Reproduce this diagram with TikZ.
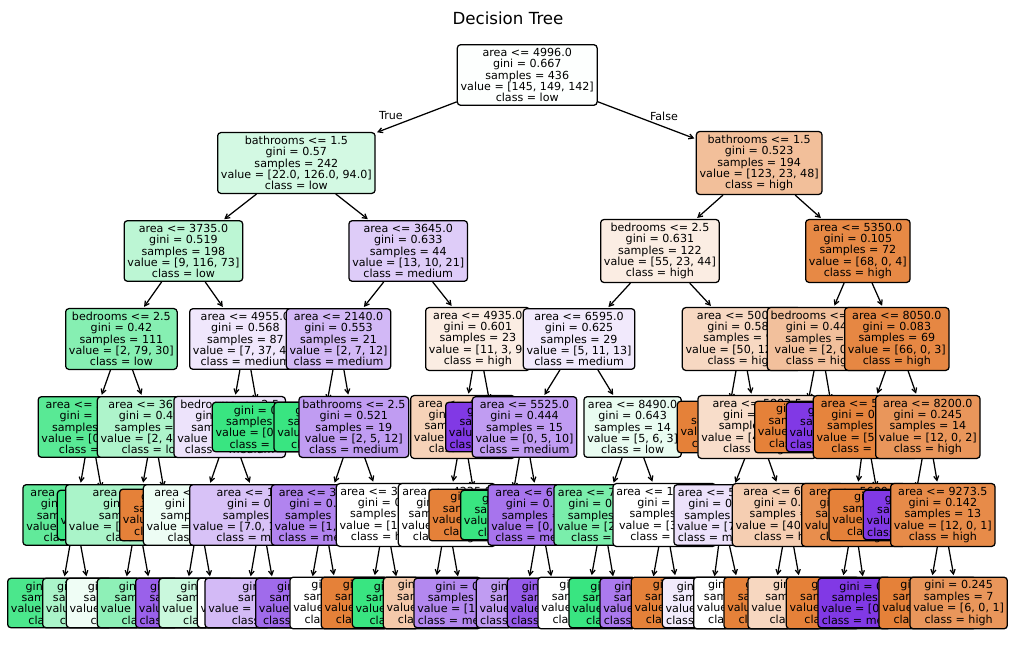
\documentclass[tikz,border=0pt]{standalone}
\usepackage{fontspec}
\setmainfont{DejaVu Sans}
\usetikzlibrary{arrows.meta}

\definecolor{high}{RGB}{229,129,57}
\definecolor{low}{RGB}{57,229,129}
\definecolor{medium}{RGB}{129,57,229}

% deeper levels lie below, their arrows just under them
\pgfdeclarelayer{bg}
\pgfdeclarelayer{e6}\pgfdeclarelayer{n6}
\pgfdeclarelayer{e5}\pgfdeclarelayer{n5}
\pgfdeclarelayer{e4}\pgfdeclarelayer{n4}
\pgfdeclarelayer{e3}\pgfdeclarelayer{n3}
\pgfdeclarelayer{e2}\pgfdeclarelayer{n2}
\pgfdeclarelayer{e1}\pgfdeclarelayer{n1}
\pgfsetlayers{bg,e6,n6,e5,n5,e4,n4,e3,n3,e2,n2,e1,n1,main}

\tikzset{
  box/.style={draw, line width=0.9pt, rounded corners=2.4pt, align=center,
    inner sep=2.4pt, anchor=west, font=\fontsize{8}{8.2}\selectfont},
  edge/.style={-{Straight Barb[length=3.2pt,width=3.6pt]}, line width=0.9pt, shorten >=1pt},
  lbl/.style={font=\fontsize{8}{9.6}\selectfont},
}
\newcommand{\nsplit}[5]{#1\\gini = #2\\samples = #3\\value = [#4]\\class = #5}
\newcommand{\nleaf}[4]{gini = #1\\samples = #2\\value = [#3]\\class = #4}

\begin{document}
\begin{tikzpicture}[x=0.72pt, y=-0.72pt]
\useasboundingbox (0,0) rectangle (1013,658);
\begin{pgfonlayer}{bg}
\fill[white] (0,0) rectangle (1013,658);
\end{pgfonlayer}

\node[font=\fontsize{12}{14.4}\selectfont] (title) at (508,18) {Decision Tree};

% depth 0
\node[box, fill=low!1] (root) at (456.7,75) {\nsplit{area <= 4996.0}{0.667}{436}{145, 149, 142}{low}};
\node[lbl] (ltrue) at (391,116) {True};
\node[lbl] (lfalse) at (664,116) {False};

% depth 1
\begin{pgfonlayer}{n1}
\node[box, fill=low!22] (l) at (217,163) {\nsplit{bathrooms <= 1.5}{0.57}{242}{22.0, 126.0, 94.0}{low}};
\node[box, fill=high!51] (r) at (695.7,163) {\nsplit{bathrooms <= 1.5}{0.523}{194}{123, 23, 48}{high}};
\end{pgfonlayer}
\begin{pgfonlayer}{e1}
\foreach \pn/\cn in {root/l, root/r}
  \draw[edge] (\pn) -- (\cn);
\end{pgfonlayer}

% depth 2
\begin{pgfonlayer}{n2}
\node[box, fill=low!34] (ll) at (123.5,251) {\nsplit{area <= 3735.0}{0.519}{198}{9, 116, 73}{low}};
\node[box, fill=medium!26] (lr) at (348.3,251) {\nsplit{area <= 3645.0}{0.633}{44}{13, 10, 21}{medium}};
\node[box, fill=high!14] (rl) at (600,251) {\nsplit{bedrooms <= 2.5}{0.631}{122}{55, 23, 44}{high}};
\node[box, fill=high!94] (rr) at (805,251) {\nsplit{area <= 5350.0}{0.105}{72}{68, 0, 4}{high}};
\end{pgfonlayer}
\begin{pgfonlayer}{e2}
\foreach \pn/\cn in {l/ll, l/lr, r/rl, r/rr}
  \draw[edge] (\pn) -- (\cn);
\end{pgfonlayer}

% depth 3
\begin{pgfonlayer}{n3}
\node[box, fill=low!61] (lll) at (65,339) {\nsplit{bedrooms <= 2.5}{0.42}{111}{2, 79, 30}{low}};
\node[box, fill=medium!12] (llr) at (189,339) {\nsplit{area <= 4955.0}{0.568}{87}{7, 37, 43}{medium}};
\node[box, fill=medium!36] (lrl) at (285.7,339) {\nsplit{area <= 2140.0}{0.553}{21}{2, 7, 12}{medium}};
\node[box, fill=high!14] (lrr) at (425,339) {\nsplit{area <= 4935.0}{0.601}{23}{11, 3, 9}{high}};
\node[box, fill=medium!11] (rll) at (522.7,339) {\nsplit{area <= 6595.0}{0.625}{29}{5, 11, 13}{medium}};
\node[box, fill=high!31] (rlr) at (681.7,339) {\nsplit{area <= 5005.0}{0.583}{93}{50, 12, 31}{high}};
\node[box, fill=high!50] (rrl) at (766.7,339) {\nsplit{bedrooms <= 3.5}{0.444}{3}{2, 0, 1}{high}};
\node[box, fill=high!95] (rrr) at (844,339) {\nsplit{area <= 8050.0}{0.083}{69}{66, 0, 3}{high}};
\end{pgfonlayer}
\begin{pgfonlayer}{e3}
\foreach \pn/\cn in {ll/lll, ll/llr, lr/lrl, lr/lrr, rl/rll, rl/rlr, rr/rrl, rr/rrr}
  \draw[edge] (\pn) -- (\cn);
\end{pgfonlayer}

% depth 4
\begin{pgfonlayer}{n4}
\node[box, fill=low!84] (llll) at (37.5,427) {\nsplit{area <= 3315.0}{0.24}{43}{0, 37, 6}{low}};
\node[box, fill=low!41] (lllr) at (96.7,427) {\nsplit{area <= 3650.0}{0.493}{68}{2, 42, 24}{low}};
\node[box, fill=medium!14] (llrl) at (173.3,427) {\nsplit{bedrooms <= 2.5}{0.568}{86}{7, 36, 43}{medium}};
\node[box, fill=low] (llrr) at (211.7,427) {\nleaf{0.0}{1}{0, 1, 0}{low}};
\node[box, fill=low] (lrll) at (273.3,427) {\nleaf{0.0}{2}{0, 2, 0}{low}};
\node[box, fill=medium!50] (lrlr) at (298.3,427) {\nsplit{bathrooms <= 2.5}{0.521}{19}{2, 5, 12}{medium}};
\node[box, fill=high!36] (lrrl) at (410,427) {\nsplit{area <= 4370.0}{0.585}{20}{11, 3, 6}{high}};
\node[box, fill=medium] (lrrr) at (445,427) {\nleaf{0.0}{3}{0, 0, 3}{medium}};
\node[box, fill=medium!50] (rlll) at (471.7,427) {\nsplit{area <= 5525.0}{0.444}{15}{0, 5, 10}{medium}};
\node[box, fill=low!11] (rllr) at (583.3,427) {\nsplit{area <= 8490.0}{0.643}{14}{5, 6, 3}{low}};
\node[box, fill=high] (rlrl) at (676.7,427) {\nleaf{0.0}{3}{3, 0, 0}{high}};
\node[box, fill=high!27] (rlrr) at (697.3,427) {\nsplit{area <= 5883.5}{0.591}{90}{47, 12, 31}{high}};
\node[box, fill=high] (rrll) at (754,427) {\nleaf{0.0}{2}{2, 0, 0}{high}};
\node[box, fill=medium] (rrlr) at (785.7,427) {\nleaf{0.0}{1}{0, 0, 1}{medium}};
\node[box, fill=high!98] (rrrl) at (812.7,427) {\nsplit{area <= 5550.0}{0.036}{55}{54, 0, 1}{high}};
\node[box, fill=high!83] (rrrr) at (875,427) {\nsplit{area <= 8200.0}{0.245}{14}{12, 0, 2}{high}};
\end{pgfonlayer}
\begin{pgfonlayer}{e4}
\foreach \pn/\cn in {lll/llll, lll/lllr, llr/llrl, llr/llrr, lrl/lrll, lrl/lrlr, lrr/lrrl, lrr/lrrr,
    rll/rlll, rll/rllr, rlr/rlrl, rlr/rlrr, rrl/rrll, rrl/rrlr, rrr/rrrl, rrr/rrrr}
  \draw[edge] (\pn) -- (\cn);
\end{pgfonlayer}

% depth 5
\begin{pgfonlayer}{n5}
\node[box, fill=low!80] (lllll) at (22.3,515) {\nsplit{area <= 3150.0}{0.278}{36}{0, 30, 6}{low}};
\node[box, fill=low] (llllr) at (56.7,515) {\nleaf{0.0}{7}{0, 7, 0}{low}};
\node[box, fill=low!43] (lllrl) at (65,515) {\nsplit{area <= 3510.0}{0.463}{66}{0.0, 42.0, 24.0}{low}};
\node[box, fill=high] (lllrr) at (119,515) {\nleaf{0.0}{2}{2, 0, 0}{high}};
\node[box, fill=low!9] (llrll) at (142.7,515) {\nsplit{area <= 4410.0}{0.499}{44}{0, 23, 21}{low}};
\node[box, fill=medium!31] (llrlr) at (189,515) {\nsplit{area <= 1920.0}{0.602}{42}{7.0, 13.0, 22.0}{medium}};
\node[box, fill=medium!62] (lrlrl) at (270.7,515) {\nsplit{area <= 3050.0}{0.443}{17}{1, 4, 12}{medium}};
\node[box, fill=white] (lrlrr) at (335.7,515) {\nsplit{area <= 3300.0}{0.5}{2}{1, 1, 0}{high}};
\node[box, fill=white] (lrrll) at (397.7,515) {\nsplit{area <= 4235.0}{0.64}{15}{6, 3, 6}{high}};
\node[box, fill=high] (lrrlr) at (428.3,515) {\nleaf{0.0}{5}{5, 0, 0}{high}};
\node[box, fill=low] (rllll) at (460,515) {\nleaf{0.0}{2}{0, 2, 0}{low}};
\node[box, fill=medium!70] (rlllr) at (487.3,515) {\nsplit{area <= 6210.0}{0.355}{13}{0, 3, 10}{medium}};
\node[box, fill=low!67] (rllrl) at (553.3,515) {\nsplit{area <= 7420.0}{0.375}{8}{2, 6, 0}{low}};
\node[box, fill=white] (rllrr) at (612.3,515) {\nsplit{area <= 10250.0}{0.5}{6}{3, 0, 3}{high}};
\node[box, fill=medium!15] (rlrrl) at (673.3,515) {\nsplit{area <= 5500.0}{0.657}{22}{7, 6, 9}{medium}};
\node[box, fill=high!39] (rlrrr) at (731.7,515) {\nsplit{area <= 6615.0}{0.542}{68}{40, 6, 22}{high}};
\node[box, fill=high!90] (rrrll) at (801,515) {\nsplit{area <= 5680.0}{0.165}{11}{10, 0, 1}{high}};
\node[box, fill=high] (rrrlr) at (828.3,515) {\nleaf{0.0}{44}{44, 0, 0}{high}};
\node[box, fill=medium] (rrrrl) at (862.7,515) {\nleaf{0.0}{1}{0, 0, 1}{medium}};
\node[box, fill=high!92] (rrrrr) at (890,515) {\nsplit{area <= 9273.5}{0.142}{13}{12, 0, 1}{high}};
\end{pgfonlayer}
\begin{pgfonlayer}{e5}
\foreach \pn/\cn in {llll/lllll, llll/llllr, lllr/lllrl, lllr/lllrr, llrl/llrll, llrl/llrlr,
    lrlr/lrlrl, lrlr/lrlrr, lrrl/lrrll, lrrl/lrrlr, rlll/rllll, rlll/rlllr, rllr/rllrl, rllr/rllrr,
    rlrr/rlrrl, rlrr/rlrrr, rrrl/rrrll, rrrl/rrrlr, rrrr/rrrrl, rrrr/rrrrr}
  \draw[edge] (\pn) -- (\cn);
\end{pgfonlayer}

% depth 6, all leaves
\begin{pgfonlayer}{n6}
\node[box, fill=low!91] (llllll) at (7,603) {\nleaf{0.147}{25}{0, 23, 2}{low}};
\node[box, fill=low!43] (lllllr) at (42,603) {\nleaf{0.463}{11}{0, 7, 4}{low}};
\node[box, fill=low!8] (lllrll) at (65.7,603) {\nleaf{0.499}{23}{0, 12, 11}{low}};
\node[box, fill=low!57] (lllrlr) at (96.7,603) {\nleaf{0.422}{43}{0, 30, 13}{low}};
\node[box, fill=medium!80] (llrlll) at (135,603) {\nleaf{0.278}{6}{0, 1, 5}{medium}};
\node[box, fill=low!27] (llrllr) at (158.3,603) {\nleaf{0.488}{38}{0, 22, 16}{low}};
\node[box, fill=white] (llrlrl) at (196.7,603) {\nleaf{0.64}{5}{1, 2, 2}{low}};
\node[box, fill=medium!35] (llrlrr) at (204.3,603) {\nleaf{0.593}{37}{6.0, 11.0, 20.0}{medium}};
\node[box, fill=medium!75] (lrlrll) at (255,603) {\nleaf{0.32}{15}{0, 3, 12}{medium}};
\node[box, fill=white] (lrlrlr) at (289.3,603) {\nleaf{0.5}{2}{1, 1, 0}{high}};
\node[box, fill=high] (lrlrrl) at (320.7,603) {\nleaf{0.0}{1}{1, 0, 0}{high}};
\node[box, fill=low] (lrlrrr) at (351.7,603) {\nleaf{0.0}{1}{0, 1, 0}{low}};
\node[box, fill=high!43] (lrrlll) at (382.7,603) {\nleaf{0.593}{9}{5, 2, 2}{high}};
\node[box, fill=medium!60] (lrrllr) at (413.3,603) {\nleaf{0.5}{6}{1, 1, 4}{medium}};
\node[box, fill=medium!50] (rlllrl) at (475.7,603) {\nleaf{0.444}{6}{0, 2, 4}{medium}};
\node[box, fill=medium!83] (rlllrr) at (506.7,603) {\nleaf{0.245}{7}{0, 1, 6}{medium}};
\node[box, fill=white] (rllrll) at (537.3,603) {\nleaf{0.5}{4}{2, 2, 0}{high}};
\node[box, fill=low] (rllrlr) at (568.3,603) {\nleaf{0.0}{4}{0, 4, 0}{low}};
\node[box, fill=medium!67] (rllrrl) at (599.3,603) {\nleaf{0.375}{4}{1, 0, 3}{medium}};
\node[box, fill=high] (rllrrr) at (630.7,603) {\nleaf{0.0}{2}{2, 0, 0}{high}};
\node[box, fill=medium!10] (rlrrll) at (661.7,603) {\nleaf{0.645}{11}{3, 3, 5}{medium}};
\node[box, fill=white] (rlrrlr) at (693,603) {\nleaf{0.661}{11}{4, 3, 4}{high}};
\node[box, fill=high] (rlrrrl) at (723.3,603) {\nleaf{0.0}{5}{5, 0, 0}{high}};
\node[box, fill=high!32] (rlrrrr) at (747.3,603) {\nleaf{0.56}{63}{35, 6, 22}{high}};
\node[box, fill=high] (rrrlll) at (785.7,603) {\nleaf{0.0}{10}{10, 0, 0}{high}};
\node[box, fill=medium] (rrrllr) at (817.3,603) {\nleaf{0.0}{1}{0, 0, 1}{medium}};
\node[box, fill=high] (rrrrrl) at (878.3,603) {\nleaf{0.0}{6}{6, 0, 0}{high}};
\node[box, fill=high!83] (rrrrrr) at (909.3,603) {\nleaf{0.245}{7}{6, 0, 1}{high}};
\end{pgfonlayer}
\begin{pgfonlayer}{e6}
\foreach \pn/\cn in {lllll/llllll, lllll/lllllr, lllrl/lllrll, lllrl/lllrlr, llrll/llrlll, llrll/llrllr,
    llrlr/llrlrl, llrlr/llrlrr, lrlrl/lrlrll, lrlrl/lrlrlr, lrlrr/lrlrrl, lrlrr/lrlrrr,
    lrrll/lrrlll, lrrll/lrrllr, rlllr/rlllrl, rlllr/rlllrr, rllrl/rllrll, rllrl/rllrlr,
    rllrr/rllrrl, rllrr/rllrrr, rlrrl/rlrrll, rlrrl/rlrrlr, rlrrr/rlrrrl, rlrrr/rlrrrr,
    rrrll/rrrlll, rrrll/rrrllr, rrrrr/rrrrrl, rrrrr/rrrrrr}
  \draw[edge] (\pn) -- (\cn);
\end{pgfonlayer}
\end{tikzpicture}
\end{document}
